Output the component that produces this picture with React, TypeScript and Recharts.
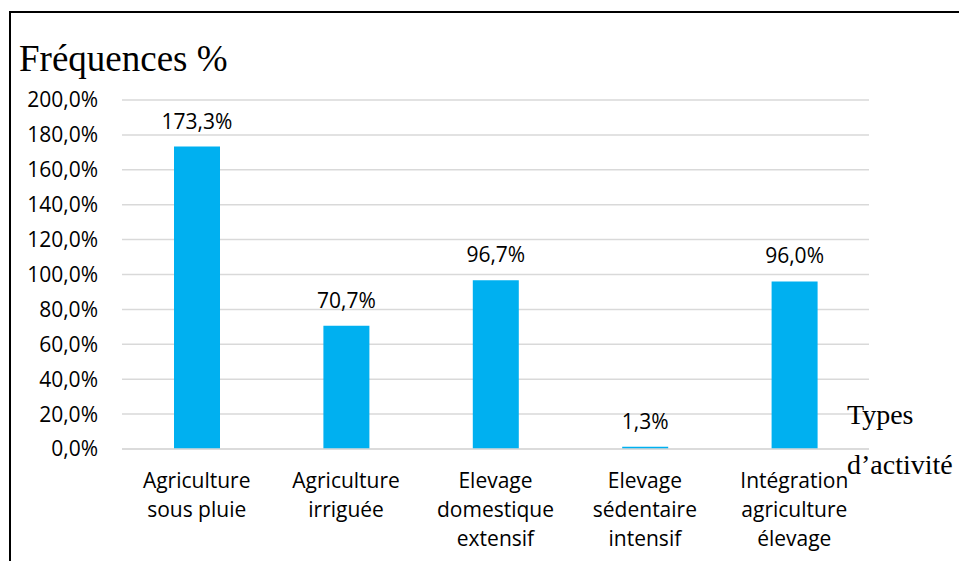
import React from 'react';
import { BarChart, Bar, XAxis, YAxis, CartesianGrid, LabelList } from 'recharts';

const categories = [
  'Agriculture\nsous pluie',
  'Agriculture\nirriguée',
  'Elevage\ndomestique\nextensif',
  'Elevage\nsédentaire\nintensif',
  'Intégration\nagriculture\nélevage',
];
const frequences = [173.3, 70.7, 96.7, 1.3, 96.0];
const yTicks = [0, 20, 40, 60, 80, 100, 120, 140, 160, 180, 200];

const data = categories.map((c, i) => ({ name: c, value: frequences[i] }));

const FONT = "'Open Sans', 'Noto Sans', sans-serif";
const SERIF = "'Times New Roman', 'Liberation Serif', serif";

const fmt = (v: number) => `${v.toFixed(1).replace('.', ',')}%`;

// multi-line category label, centred under the bar
const CategoryTick = (props: any) => {
  const { x, y, payload } = props;
  const lines = String(payload.value).split('\n');
  return (
    <g>
      {lines.map((line, i) => (
        <text
          key={i}
          x={x}
          y={y + 39 + i * 29}
          textAnchor="middle"
          fill="#000"
          fontSize={21}
          fontFamily={FONT}
        >
          {line}
        </text>
      ))}
    </g>
  );
};

export default function App() {
  return (
    <div style={{ position: 'absolute', left: 0, top: 0, width: 959, height: 561, background: '#fff', overflow: 'hidden' }}>
      {/* frame */}
      <div
        style={{
          position: 'absolute',
          left: 9,
          top: 11,
          width: 980,
          height: 600,
          borderLeft: '2px solid #000',
          borderTop: '2px solid #000',
          boxSizing: 'border-box',
        }}
      />
      <BarChart
        width={959}
        height={561}
        data={data}
        margin={{ top: 100, right: 90, bottom: 12, left: 22 }}
        barCategoryGap="0%"
      >
        <CartesianGrid vertical={false} stroke="#d9d9d9" strokeWidth={1.5} />
        <XAxis
          dataKey="name"
          height={100}
          axisLine={{ stroke: '#d9d9d9', strokeWidth: 1.5 }}
          tickLine={false}
          tickSize={0}
          tickMargin={0}
          tick={<CategoryTick />}
          interval={0}
        />
        <YAxis
          width={100}
          domain={[0, 200]}
          ticks={yTicks}
          tickFormatter={fmt}
          axisLine={false}
          tickLine={false}
          tickSize={0}
          tickMargin={24}
          tick={{ fill: '#000', fontSize: 21, fontFamily: FONT }}
        />
        <Bar dataKey="value" fill="#00b0f0" barSize={46} isAnimationActive={false}>
          <LabelList
            dataKey="value"
            position="top"
            offset={18}
            formatter={(v: any) => fmt(Number(v))}
            style={{ fill: '#000', fontSize: 21, fontFamily: FONT }}
          />
        </Bar>
      </BarChart>
      {/* axis titles */}
      <svg
        width={959}
        height={561}
        style={{ position: 'absolute', left: 0, top: 0, pointerEvents: 'none' }}
      >
        <text x={19} y={71} fontSize={37} fontFamily={SERIF} fill="#000">
          Fréquences %
        </text>
        <text x={847} y={424} fontSize={28} fontFamily={SERIF} fill="#000">
          Types
        </text>
        <text x={847} y={474} fontSize={28} fontFamily={SERIF} fill="#000">
          d’activité
        </text>
      </svg>
    </div>
  );
}
